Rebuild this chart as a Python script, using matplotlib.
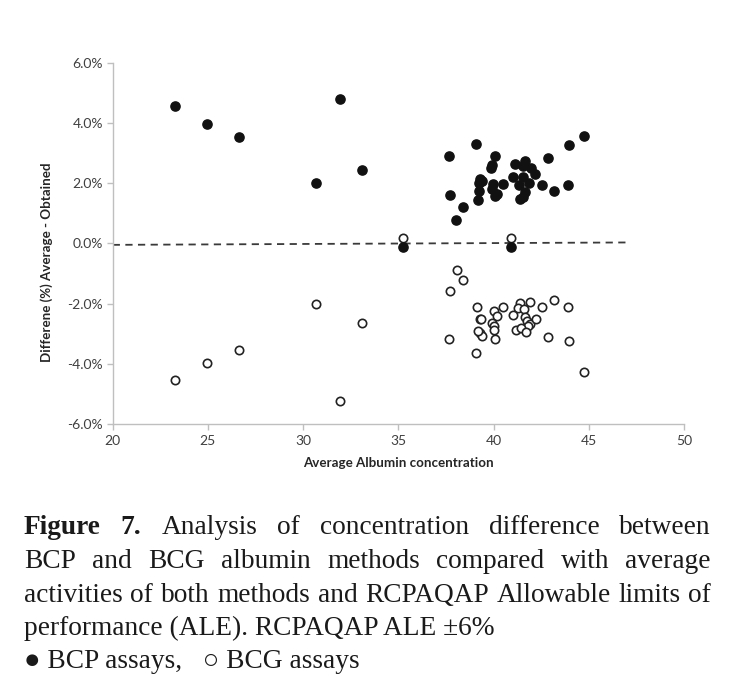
import matplotlib
matplotlib.use("Agg")
import matplotlib.pyplot as plt
from matplotlib.ticker import FuncFormatter

# ---- data ----
bcp_x = [23.25, 24.97, 26.65, 30.66, 31.92, 33.08, 35.25, 40.93,
         39.08, 37.68, 40.08, 39.92, 39.87, 41.13, 41.66, 41.53, 41.95, 42.20,
         41.04, 41.53, 41.36, 41.88, 42.53, 43.92, 43.19, 41.66, 41.57, 41.39,
         44.75, 43.95, 42.86, 39.29, 39.38, 39.26, 39.17, 39.99, 39.90, 40.17,
         40.05, 40.48, 37.72, 38.38, 38.03, 39.22]
bcp_y = [4.55, 3.97, 3.53, 1.99, 4.80, 2.44, -0.13, -0.11,
         3.31, 2.91, 2.91, 2.60, 2.50, 2.65, 2.72, 2.57, 2.50, 2.29,
         2.21, 2.21, 1.95, 1.99, 1.95, 1.93, 1.75, 1.70, 1.55, 1.46,
         3.56, 3.25, 2.83, 2.14, 2.07, 1.74, 1.43, 1.98, 1.79, 1.63,
         1.58, 1.96, 1.59, 1.20, 0.78, 2.00]

bcg_x = [23.25, 24.97, 26.65, 30.66, 31.92, 33.08, 35.25, 40.93,
         38.07, 38.38, 37.72, 39.15, 39.29, 39.35, 40.04, 40.17, 40.52, 39.90,
         40.00, 40.00, 39.29, 39.38, 39.20, 37.68, 40.08, 39.08, 41.39, 41.92,
         41.30, 41.60, 41.04, 41.66, 41.74, 41.92, 41.83, 42.23, 41.17, 41.43,
         41.70, 42.53, 43.19, 43.93, 42.85, 43.97, 44.74]
bcg_y = [-4.54, -3.98, -3.54, -2.01, -5.23, -2.63, 0.17, 0.17,
         -0.88, -1.21, -1.57, -2.10, -2.50, -2.52, -2.26, -2.41, -2.12, -2.63,
         -2.75, -2.87, -2.97, -3.08, -2.92, -3.17, -3.17, -3.63, -1.97, -1.95,
         -2.14, -2.19, -2.39, -2.44, -2.58, -2.69, -2.74, -2.52, -2.88, -2.80,
         -2.93, -2.11, -1.89, -2.10, -3.10, -3.24, -4.27]

trend_x = [20.0, 47.2]
trend_y = [-0.05, 0.03]

x_ticks = [20, 25, 30, 35, 40, 45, 50]
y_ticks = [-6, -4, -2, 0, 2, 4, 6]

x_label = "Average Albumin concentration"
y_label = "Differene (%) Average - Obtained"

caption_lines = [
    ([("Figure", True), ("7.", True), ("Analysis", False), ("of", False), ("concentration", False),
      ("difference", False), ("between", False)], True),
    ([("BCP", False), ("and", False), ("BCG", False), ("albumin", False), ("methods", False),
      ("compared", False), ("with", False), ("average", False)], True),
    ([("activities", False), ("of", False), ("both", False), ("methods", False), ("and", False),
      ("RCPAQAP", False), ("Allowable", False), ("limits", False), ("of", False)], True),
    ([("performance (ALE). RCPAQAP ALE \u00b16%", False)], False),
    ([("\u25cf BCP assays,   \u25cb BCG assays", False)], False),
]

# ---- figure ----
W, H = 734, 689
fig = plt.figure(figsize=(W / 100, H / 100), dpi=100)
ax = fig.add_axes([112.7 / W, 1 - 424 / H, (684 - 112.7) / W, (424 - 62.7) / H])

ax.plot(trend_x, trend_y, color="#3a3a3a", lw=1.3, ls=(0, (4, 3)), zorder=1)
ax.scatter(bcp_x, bcp_y, s=44, color="#111111", edgecolor="#111111", zorder=3)
ax.scatter(bcg_x, bcg_y, s=36, facecolor="white", edgecolor="#222222", linewidths=1.2, zorder=2)

ax.set_xlim(20, 50)
ax.set_ylim(-6, 6)
ax.set_xticks(x_ticks)
ax.set_yticks(y_ticks)
ax.yaxis.set_major_formatter(FuncFormatter(lambda v, p: f"{v:.1f}%"))

for s in ["top", "right"]:
    ax.spines[s].set_visible(False)
for s in ["left", "bottom"]:
    ax.spines[s].set_color("#bfbfbf")
    ax.spines[s].set_linewidth(1.0)
ax.tick_params(axis="both", colors="#bfbfbf", length=4, width=1.0,
               labelcolor="#404040", labelsize=10)
ax.tick_params(axis="y", pad=3)
ax.tick_params(axis="x", pad=4)
for lbl in ax.get_xticklabels() + ax.get_yticklabels():
    lbl.set_family("Lato")

ax.set_xlabel(x_label, fontsize=9.6, fontweight="bold", family="Lato", color="#262626")
ax.set_ylabel(y_label, fontsize=9.6, fontweight="bold", family="Lato", color="#262626")
ax.xaxis.set_label_coords(0.5, -(463 - 424) / (424 - 62.7))
ax.yaxis.set_label_coords(-(112.7 - 47) / (684 - 112.7), (424 - 262) / (424 - 62.7))
ax.xaxis.label.set_va("center")
ax.yaxis.label.set_va("center")

# ---- caption with justified lines ----
renderer = fig.canvas.get_renderer()
fam = ["Liberation Serif", "DejaVu Serif"]
left_px, right_px = 24, 711
line_y = [528, 562, 595, 628, 661]

probe = fig.text(0, 0, "activities of both methods and RCPAQAP Allowable limits of",
                 fontsize=10, family=fam)
w10 = probe.get_window_extent(renderer).width
probe.remove()
fs = 10 * (right_px - left_px) / w10 * 0.99

def width_of(txt, bold):
    t = fig.text(0, 0, txt, fontsize=fs, family=fam, fontweight="bold" if bold else "normal")
    w = t.get_window_extent(renderer).width
    t.remove()
    return w

for (words, justify), yp in zip(caption_lines, line_y):
    widths = [width_of(w, b) for w, b in words]
    if justify and len(words) > 1:
        gap = (right_px - left_px - sum(widths)) / (len(words) - 1)
    else:
        gap = width_of("a b", False) - width_of("ab", False)
    x = left_px
    for (w, b), wd in zip(words, widths):
        fig.text(x / W, 1 - yp / H, w, fontsize=fs, family=fam,
                 fontweight="bold" if b else "normal", color="#1a1a1a",
                 ha="left", va="center")
        x += wd + gap

fig.savefig("out.png", dpi=100)
